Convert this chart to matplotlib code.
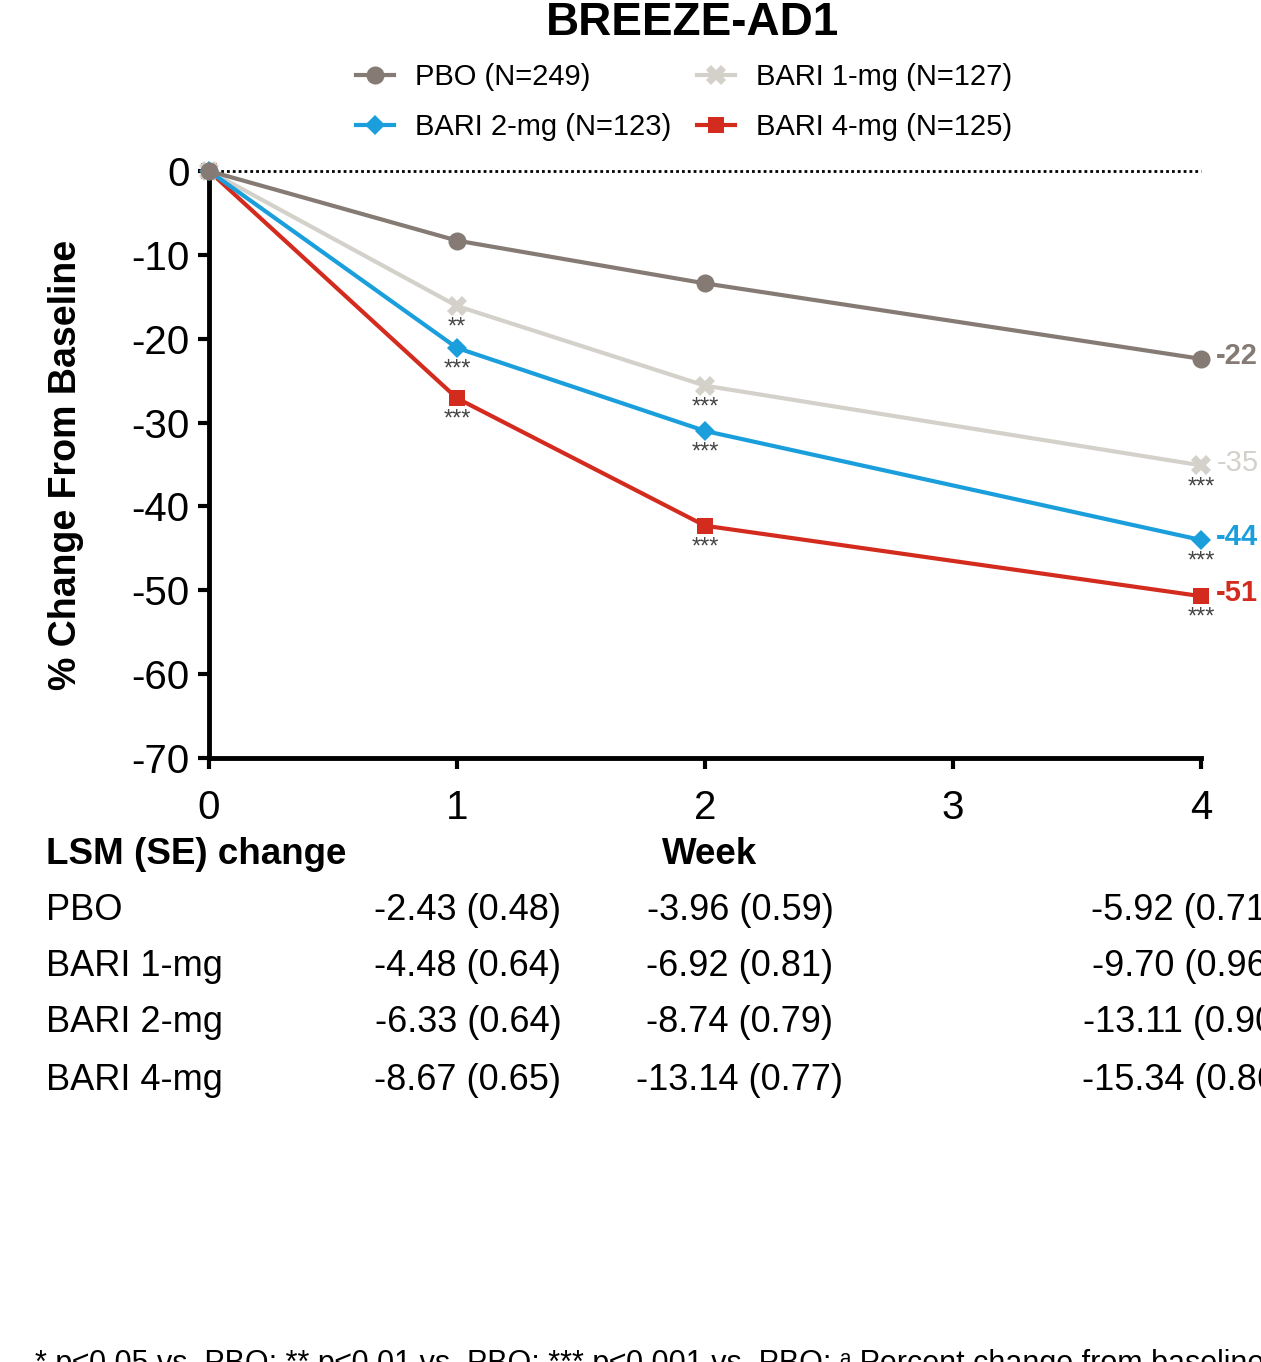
import matplotlib
matplotlib.use('Agg')
import matplotlib.pyplot as plt
import numpy as np

# ===== DATA =====
WEEKS = [0, 1, 2, 4]
PBO = [0, -8.3, -13.4, -22.4]
BARI1 = [0, -16.1, -25.6, -35.1]
BARI2 = [0, -21.1, -31.0, -44.0]
BARI4 = [0, -27.1, -42.3, -50.7]

STARS_PBO = ["", "", "", ""]
STARS_BARI1 = ["", "**", "***", "***"]
STARS_BARI2 = ["", "***", "***", "***"]
STARS_BARI4 = ["", "***", "***", "***"]

END_LABELS = ["-22", "-35", "-44", "-51"]
LEGEND_LABELS = ["PBO (N=249)", "BARI 1-mg (N=127)", "BARI 2-mg (N=123)", "BARI 4-mg (N=125)"]

TABLE_ROWS = ["PBO", "BARI 1-mg", "BARI 2-mg", "BARI 4-mg"]
TABLE_WK1 = ["-2.43 (0.48)", "-4.48 (0.64)", "-6.33 (0.64)", "-8.67 (0.65)"]
TABLE_WK2 = ["-3.96 (0.59)", "-6.92 (0.81)", "-8.74 (0.79)", "-13.14 (0.77)"]
TABLE_WK4 = ["-5.92 (0.71)", "-9.70 (0.96)", "-13.11 (0.90)", "-15.34 (0.86)"]

COLORS = ["#857b74", "#d3d1ca", "#1a9fdc", "#d42b1f"]

plt.rcParams['font.family'] = ['Liberation Sans', 'DejaVu Sans']
plt.rcParams['axes.unicode_minus'] = False

W, H = 1261, 1362
fig = plt.figure(figsize=(W / 100, H / 100), dpi=100)

def fx(x):
    return x / W

def fy(y):
    return 1 - y / H

ax = fig.add_axes([fx(209), fy(758), fx(1201) - fx(209), fy(171) - fy(758)])

series = [
    (PBO, STARS_PBO, 'o', 13, COLORS[0]),
    (BARI1, STARS_BARI1, 'X', 15, COLORS[1]),
    (BARI2, STARS_BARI2, 'D', 10, COLORS[2]),
    (BARI4, STARS_BARI4, 's', 12, COLORS[3]),
]

ax.plot([0, 4], [0, 0], linestyle=(0, (1, 1.1)), color='black', lw=2, zorder=1, clip_on=False)

handles = []
zorders = [6, 4, 5, 3]
for (vals, stars, mk, ms, col), lab, z in zip(series, LEGEND_LABELS, zorders):
    h, = ax.plot(WEEKS, vals, marker=mk, markersize=ms, color=col, lw=3,
                 markeredgewidth=0, label=lab, clip_on=False, zorder=z)
    handles.append(h)
    for wx, v, s in zip(WEEKS, vals, stars):
        if s:
            ax.annotate(s, (wx, v), xytext=(0, -20), textcoords='offset points',
                        ha='center', va='baseline', fontsize=17, color='#444444')

for vals, lab, col in zip([PBO, BARI1, BARI2, BARI4], END_LABELS, COLORS):
    ax.annotate(lab, (WEEKS[-1], vals[-1]), xytext=(11, 2), textcoords='offset points',
                ha='left', va='center', fontsize=21,
                fontweight='normal' if lab == "-35" else 'bold', color=col,
                annotation_clip=False)

ax.set_xlim(0, 4)
ax.set_ylim(-70, 0)
ax.set_xticks([0, 1, 2, 3, 4])
ax.set_yticks(np.arange(0, -71, -10))
ax.tick_params(axis='both', direction='out', length=8, width=3, labelsize=29)
ax.tick_params(axis='x', pad=14)
ax.tick_params(axis='y', pad=6)
for s in ['top', 'right']:
    ax.spines[s].set_visible(False)
for s in ['left', 'bottom']:
    ax.spines[s].set_linewidth(3.5)
ax.set_ylabel("% Change From Baseline", fontsize=27, fontweight='bold', labelpad=34)

fig.text(fx(692), fy(23), "BREEZE-AD1", ha='center', va='center', fontsize=33, fontweight='bold')

leg = fig.legend([handles[0], handles[2], handles[1], handles[3]],
                 [LEGEND_LABELS[0], LEGEND_LABELS[2], LEGEND_LABELS[1], LEGEND_LABELS[3]],
                 ncol=2, loc='center', bbox_to_anchor=(fx(684), fy(102)), frameon=False,
                 fontsize=21, handlelength=1.3, columnspacing=0.9, labelspacing=0.75,
                 handletextpad=0.7)

# table under the chart
fig.text(fx(46), fy(855), "LSM (SE) change", ha='left', va='center', fontsize=26.5, fontweight='bold')
fig.text(fx(710), fy(855), "Week", ha='center', va='center', fontsize=26.5, fontweight='bold')
row_y = [910, 967, 1023, 1080]
for y, name, a, b, c in zip(row_y, TABLE_ROWS, TABLE_WK1, TABLE_WK2, TABLE_WK4):
    fig.text(fx(46), fy(y), name, ha='left', va='center', fontsize=26)
    fig.text(fx(468), fy(y), a, ha='center', va='center', fontsize=26)
    fig.text(fx(740), fy(y), b, ha='center', va='center', fontsize=26)
    fig.text(fx(1185), fy(y), c, ha='center', va='center', fontsize=26)

fig.text(fx(35), fy(1372), "* p\u22640.05 vs. PBO; ** p\u22640.01 vs. PBO; *** p\u22640.001 vs. PBO; \u1d43 Percent change from baseline",
         ha='left', va='baseline', fontsize=22)

fig.savefig("out.png", dpi=100)
